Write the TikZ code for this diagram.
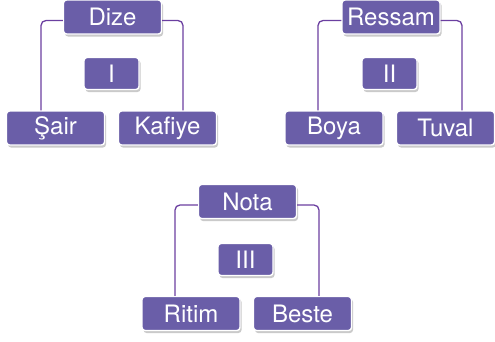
\documentclass[tikz,border=0pt]{standalone}
\usepackage{fontspec}
\setmainfont{TeX Gyre Heros}
\usetikzlibrary{shadows,calc}
\definecolor{boxfill}{HTML}{6A5EA8}
\definecolor{linecol}{HTML}{6B3FA0}
\tikzset{
  base/.style={rectangle, rounded corners=3pt, fill=boxfill, draw=white, line width=1.4pt,
    text=white, font=\fontsize{24}{24}\selectfont, inner sep=0pt,
    drop shadow={shadow xshift=1.5pt, shadow yshift=-2.5pt, opacity=0.35, fill=black!60}},
  bigbox/.style={base, minimum width=98pt, minimum height=34pt},
  smallbox/.style={base, minimum width=55pt, minimum height=32pt},
  conn/.style={draw=linecol, line width=1.3pt, rounded corners=5pt}
}
\begin{document}
\begin{tikzpicture}[x=1pt,y=1pt]
\useasboundingbox (0,0) rectangle (495,341);
% Group I
\node[bigbox] (Dize) at (112.5,324) {Dize};
\node[smallbox] (I) at (111.5,267.5) {I};
\node[bigbox] (Sair) at (55.5,213) {Şair};
\node[bigbox] (Kafiye) at (167.5,213) {Kafiye};
% Group II
\node[bigbox] (Ressam) at (391,324) {Ressam};
\node[smallbox] (II) at (389.5,267.5) {II};
\node[bigbox] (Boya) at (334,213) {Boya};
\node[bigbox] (Tuval) at (445.5,213) {Tuval};
% Group III
\node[bigbox] (Nota) at (247.5,139.5) {Nota};
\node[smallbox] (III) at (245.5,81.5) {III};
\node[bigbox] (Ritim) at (191,27.5) {Ritim};
\node[bigbox] (Beste) at (302.5,27.5) {Beste};
% connectors
\path[conn] ([yshift=-3.5pt]Dize.west) -| ([xshift=-14.5pt]Sair.north);
\path[conn] ([yshift=-3.5pt]Dize.east) -| ([xshift=15.5pt]Kafiye.north);
\path[conn] ([yshift=-3.5pt]Ressam.west) -| ([xshift=-16pt]Boya.north);
\path[conn] ([yshift=-3.5pt]Ressam.east) -| ([xshift=16.5pt]Tuval.north);
\path[conn] ([yshift=-3.5pt]Nota.west) -| ([xshift=-16pt]Ritim.north);
\path[conn] ([yshift=-3.5pt]Nota.east) -| ([xshift=16.5pt]Beste.north);
\end{tikzpicture}
\end{document}
